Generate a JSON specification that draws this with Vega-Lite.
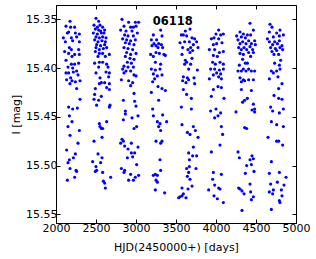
{
  "$schema": "https://vega.github.io/schema/vega-lite/v6.json",
  "width": 240,
  "height": 218,
  "autosize": "none",
  "padding": {"left": 56, "top": 5, "right": 20, "bottom": 36},
  "config": {
    "view": {"stroke": "#000000", "strokeWidth": 1},
    "axis": {
      "labelFont": "DejaVu Sans", "labelFontSize": 11, "labelColor": "#000000",
      "titleFont": "DejaVu Sans", "titleFontSize": 11, "titleFontWeight": "normal", "titleColor": "#000000",
      "domainColor": "#000000", "tickColor": "#000000", "grid": false, "tickSize": -4, "labelPadding": 3
    }
  },
  "resolve": {"axis": {"x": "independent", "y": "independent"}},
  "layer": [
    {
      "data": {"values": [
{"x":2175,"y":15.352},{"x":2125,"y":15.357},{"x":2183,"y":15.358},{"x":2233,"y":15.358},{"x":2158,"y":15.363},{"x":2142,"y":15.364},{"x":2242,"y":15.364},{"x":2292,"y":15.365},{"x":2092,"y":15.369},{"x":2192,"y":15.369},{"x":2258,"y":15.368},{"x":2117,"y":15.373},{"x":2208,"y":15.372},{"x":2292,"y":15.373},{"x":2167,"y":15.379},{"x":2108,"y":15.383},{"x":2192,"y":15.381},{"x":2283,"y":15.381},{"x":2158,"y":15.385},{"x":2233,"y":15.386},{"x":2292,"y":15.386},{"x":2125,"y":15.392},{"x":2200,"y":15.388},{"x":2192,"y":15.396},{"x":2233,"y":15.396},{"x":2283,"y":15.395},{"x":2150,"y":15.399},{"x":2208,"y":15.400},{"x":2258,"y":15.403},{"x":2125,"y":15.405},{"x":2158,"y":15.405},{"x":2217,"y":15.404},{"x":2275,"y":15.407},{"x":2183,"y":15.410},{"x":2133,"y":15.412},{"x":2200,"y":15.413},{"x":2300,"y":15.413},{"x":2242,"y":15.414},{"x":2175,"y":15.416},{"x":2258,"y":15.421},{"x":2300,"y":15.432},{"x":2158,"y":15.440},{"x":2208,"y":15.442},{"x":2267,"y":15.441},
{"x":2500,"y":15.349},{"x":2533,"y":15.352},{"x":2475,"y":15.356},{"x":2517,"y":15.358},{"x":2550,"y":15.356},{"x":2583,"y":15.358},{"x":2492,"y":15.360},{"x":2533,"y":15.361},{"x":2558,"y":15.362},{"x":2608,"y":15.361},{"x":2467,"y":15.364},{"x":2517,"y":15.365},{"x":2567,"y":15.364},{"x":2600,"y":15.364},{"x":2500,"y":15.368},{"x":2542,"y":15.369},{"x":2583,"y":15.368},{"x":2625,"y":15.369},{"x":2483,"y":15.371},{"x":2525,"y":15.373},{"x":2575,"y":15.372},{"x":2617,"y":15.373},{"x":2508,"y":15.376},{"x":2558,"y":15.377},{"x":2608,"y":15.376},{"x":2500,"y":15.379},{"x":2542,"y":15.381},{"x":2592,"y":15.380},{"x":2633,"y":15.379},{"x":2492,"y":15.383},{"x":2542,"y":15.385},{"x":2583,"y":15.385},{"x":2667,"y":15.386},{"x":2525,"y":15.388},{"x":2617,"y":15.388},{"x":2483,"y":15.395},{"x":2542,"y":15.394},{"x":2583,"y":15.394},{"x":2633,"y":15.396},{"x":2533,"y":15.399},{"x":2650,"y":15.399},{"x":2500,"y":15.405},{"x":2625,"y":15.404},{"x":2667,"y":15.405},{"x":2550,"y":15.410},{"x":2658,"y":15.409},{"x":2567,"y":15.415},{"x":2608,"y":15.415},{"x":2667,"y":15.416},{"x":2542,"y":15.416},{"x":2633,"y":15.420},{"x":2492,"y":15.421},{"x":2667,"y":15.422},{"x":2483,"y":15.427},{"x":2567,"y":15.429},{"x":2475,"y":15.432},{"x":2533,"y":15.433},{"x":2675,"y":15.438},{"x":2508,"y":15.438},{"x":2667,"y":15.440},
{"x":2167,"y":15.449},{"x":2200,"y":15.455},{"x":2150,"y":15.460},{"x":2292,"y":15.464},{"x":2175,"y":15.469},{"x":2275,"y":15.477},{"x":2133,"y":15.484},{"x":2242,"y":15.488},{"x":2217,"y":15.492},{"x":2167,"y":15.494},{"x":2150,"y":15.497},{"x":2175,"y":15.503},{"x":2250,"y":15.505},{"x":2258,"y":15.506},{"x":2233,"y":15.512},{"x":2142,"y":15.515},
{"x":2542,"y":15.457},{"x":2633,"y":15.455},{"x":2550,"y":15.460},{"x":2567,"y":15.462},{"x":2583,"y":15.462},{"x":2575,"y":15.471},{"x":2475,"y":15.475},{"x":2525,"y":15.488},{"x":2575,"y":15.492},{"x":2458,"y":15.496},{"x":2558,"y":15.497},{"x":2500,"y":15.501},{"x":2508,"y":15.505},{"x":2492,"y":15.506},{"x":2583,"y":15.507},{"x":2683,"y":15.512},{"x":2592,"y":15.516},{"x":2608,"y":15.518},{"x":2617,"y":15.523},
{"x":2825,"y":15.350},{"x":2908,"y":15.353},{"x":2992,"y":15.353},{"x":3033,"y":15.353},{"x":2850,"y":15.357},{"x":2933,"y":15.358},{"x":2967,"y":15.358},{"x":3000,"y":15.357},{"x":2808,"y":15.361},{"x":2875,"y":15.362},{"x":2950,"y":15.362},{"x":3017,"y":15.364},{"x":2858,"y":15.366},{"x":2900,"y":15.367},{"x":2967,"y":15.367},{"x":2833,"y":15.370},{"x":2883,"y":15.371},{"x":2933,"y":15.372},{"x":2992,"y":15.371},{"x":2867,"y":15.374},{"x":2917,"y":15.375},{"x":2975,"y":15.376},{"x":2850,"y":15.379},{"x":2900,"y":15.380},{"x":2958,"y":15.381},{"x":2883,"y":15.384},{"x":2933,"y":15.386},{"x":3000,"y":15.385},{"x":2867,"y":15.388},{"x":2925,"y":15.390},{"x":2975,"y":15.391},{"x":2892,"y":15.394},{"x":2942,"y":15.395},{"x":2850,"y":15.398},{"x":2900,"y":15.399},{"x":2967,"y":15.399},{"x":2833,"y":15.401},{"x":2875,"y":15.403},{"x":2933,"y":15.403},{"x":2850,"y":15.405},{"x":2975,"y":15.407},{"x":2817,"y":15.412},{"x":2908,"y":15.413},{"x":2958,"y":15.415},{"x":3000,"y":15.408},{"x":2933,"y":15.418},{"x":2975,"y":15.426},{"x":2842,"y":15.433},{"x":2983,"y":15.434},{"x":3000,"y":15.439},{"x":2867,"y":15.444},
{"x":3308,"y":15.361},{"x":3217,"y":15.366},{"x":3325,"y":15.367},{"x":3192,"y":15.371},{"x":3258,"y":15.371},{"x":3283,"y":15.375},{"x":3225,"y":15.375},{"x":3317,"y":15.376},{"x":3200,"y":15.377},{"x":3250,"y":15.377},{"x":3333,"y":15.379},{"x":3275,"y":15.379},{"x":3183,"y":15.386},{"x":3250,"y":15.384},{"x":3292,"y":15.385},{"x":3350,"y":15.386},{"x":3217,"y":15.388},{"x":3367,"y":15.387},{"x":3242,"y":15.394},{"x":3308,"y":15.396},{"x":3192,"y":15.401},{"x":3242,"y":15.402},{"x":3300,"y":15.401},{"x":3217,"y":15.406},{"x":3325,"y":15.407},{"x":3267,"y":15.408},{"x":3233,"y":15.411},{"x":3208,"y":15.414},{"x":3275,"y":15.419},{"x":3325,"y":15.421},{"x":3367,"y":15.423},{"x":3192,"y":15.425},{"x":3283,"y":15.433},{"x":3208,"y":15.442},
{"x":2867,"y":15.447},{"x":2950,"y":15.451},{"x":3025,"y":15.449},{"x":2842,"y":15.453},{"x":3008,"y":15.460},{"x":2975,"y":15.462},{"x":2825,"y":15.473},{"x":2808,"y":15.477},{"x":2842,"y":15.475},{"x":2942,"y":15.477},{"x":2858,"y":15.480},{"x":2900,"y":15.483},{"x":3025,"y":15.481},{"x":2942,"y":15.487},{"x":2983,"y":15.487},{"x":2958,"y":15.491},{"x":2892,"y":15.492},{"x":3008,"y":15.499},{"x":2817,"y":15.503},{"x":2858,"y":15.505},{"x":2850,"y":15.507},{"x":2933,"y":15.509},{"x":3033,"y":15.510},{"x":2992,"y":15.512},{"x":2967,"y":15.515},{"x":2908,"y":15.515},
{"x":3217,"y":15.449},{"x":3333,"y":15.448},{"x":3267,"y":15.455},{"x":3300,"y":15.457},{"x":3383,"y":15.455},{"x":3283,"y":15.460},{"x":3308,"y":15.464},{"x":3250,"y":15.475},{"x":3308,"y":15.477},{"x":3325,"y":15.475},{"x":3300,"y":15.494},{"x":3308,"y":15.505},{"x":3242,"y":15.509},{"x":3217,"y":15.510},{"x":3267,"y":15.510},{"x":3250,"y":15.515},{"x":3267,"y":15.517},{"x":3242,"y":15.525},{"x":3358,"y":15.528},
{"x":3675,"y":15.360},{"x":3617,"y":15.362},{"x":3592,"y":15.366},{"x":3633,"y":15.367},{"x":3567,"y":15.366},{"x":3700,"y":15.369},{"x":3733,"y":15.370},{"x":3550,"y":15.374},{"x":3608,"y":15.373},{"x":3667,"y":15.373},{"x":3758,"y":15.373},{"x":3717,"y":15.376},{"x":3583,"y":15.379},{"x":3683,"y":15.379},{"x":3650,"y":15.381},{"x":3708,"y":15.382},{"x":3775,"y":15.379},{"x":3575,"y":15.386},{"x":3675,"y":15.384},{"x":3617,"y":15.392},{"x":3700,"y":15.390},{"x":3633,"y":15.394},{"x":3608,"y":15.396},{"x":3683,"y":15.396},{"x":3658,"y":15.401},{"x":3767,"y":15.402},{"x":3592,"y":15.409},{"x":3642,"y":15.410},{"x":3583,"y":15.413},{"x":3658,"y":15.412},{"x":3725,"y":15.410},{"x":3625,"y":15.415},{"x":3733,"y":15.416},{"x":3592,"y":15.422},{"x":3633,"y":15.427},{"x":3692,"y":15.431},{"x":3567,"y":15.440},{"x":3692,"y":15.442},
{"x":4033,"y":15.361},{"x":4000,"y":15.365},{"x":4058,"y":15.366},{"x":4092,"y":15.365},{"x":3942,"y":15.370},{"x":3975,"y":15.369},{"x":4033,"y":15.370},{"x":3967,"y":15.376},{"x":4008,"y":15.375},{"x":4075,"y":15.374},{"x":3917,"y":15.381},{"x":3983,"y":15.381},{"x":4042,"y":15.384},{"x":4092,"y":15.383},{"x":3967,"y":15.387},{"x":4017,"y":15.388},{"x":3958,"y":15.394},{"x":4050,"y":15.394},{"x":3992,"y":15.396},{"x":4092,"y":15.396},{"x":3933,"y":15.401},{"x":3983,"y":15.401},{"x":4042,"y":15.402},{"x":4092,"y":15.401},{"x":4008,"y":15.405},{"x":4058,"y":15.406},{"x":3967,"y":15.407},{"x":4033,"y":15.409},{"x":3917,"y":15.411},{"x":4067,"y":15.411},{"x":3967,"y":15.422},{"x":4025,"y":15.419},{"x":4067,"y":15.420},{"x":3942,"y":15.429},{"x":4100,"y":15.431},{"x":4000,"y":15.442},{"x":3933,"y":15.444},{"x":4058,"y":15.446},
{"x":3575,"y":15.458},{"x":3717,"y":15.460},{"x":3742,"y":15.464},{"x":3642,"y":15.466},{"x":3675,"y":15.468},{"x":3775,"y":15.471},{"x":3717,"y":15.481},{"x":3658,"y":15.487},{"x":3708,"y":15.490},{"x":3758,"y":15.490},{"x":3667,"y":15.494},{"x":3667,"y":15.501},{"x":3633,"y":15.503},{"x":3750,"y":15.503},{"x":3658,"y":15.507},{"x":3642,"y":15.511},{"x":3675,"y":15.514},{"x":3575,"y":15.523},{"x":3650,"y":15.524},{"x":3700,"y":15.521},{"x":3592,"y":15.529},{"x":3550,"y":15.532},{"x":3575,"y":15.531},{"x":3625,"y":15.533},{"x":3533,"y":15.533},
{"x":4025,"y":15.449},{"x":3983,"y":15.451},{"x":4067,"y":15.460},{"x":4083,"y":15.468},{"x":4050,"y":15.479},{"x":3942,"y":15.486},{"x":3967,"y":15.507},{"x":4067,"y":15.509},{"x":3958,"y":15.514},{"x":3983,"y":15.520},{"x":3908,"y":15.525},{"x":4033,"y":15.523},{"x":4050,"y":15.524},{"x":3975,"y":15.531},{"x":4017,"y":15.534},{"x":4092,"y":15.538},
{"x":4425,"y":15.354},{"x":4467,"y":15.361},{"x":4300,"y":15.363},{"x":4342,"y":15.365},{"x":4392,"y":15.366},{"x":4258,"y":15.367},{"x":4317,"y":15.368},{"x":4367,"y":15.369},{"x":4433,"y":15.366},{"x":4275,"y":15.371},{"x":4333,"y":15.373},{"x":4408,"y":15.372},{"x":4483,"y":15.372},{"x":4300,"y":15.375},{"x":4375,"y":15.375},{"x":4442,"y":15.375},{"x":4283,"y":15.379},{"x":4350,"y":15.379},{"x":4425,"y":15.378},{"x":4492,"y":15.376},{"x":4317,"y":15.381},{"x":4383,"y":15.381},{"x":4458,"y":15.381},{"x":4300,"y":15.385},{"x":4342,"y":15.386},{"x":4408,"y":15.384},{"x":4467,"y":15.384},{"x":4333,"y":15.391},{"x":4433,"y":15.388},{"x":4367,"y":15.395},{"x":4292,"y":15.397},{"x":4392,"y":15.395},{"x":4342,"y":15.401},{"x":4408,"y":15.401},{"x":4275,"y":15.403},{"x":4317,"y":15.403},{"x":4375,"y":15.403},{"x":4442,"y":15.403},{"x":4483,"y":15.403},{"x":4300,"y":15.410},{"x":4342,"y":15.412},{"x":4408,"y":15.412},{"x":4467,"y":15.412},{"x":4317,"y":15.414},{"x":4358,"y":15.413},{"x":4317,"y":15.422},{"x":4442,"y":15.423},{"x":4392,"y":15.431},{"x":4358,"y":15.433},{"x":4333,"y":15.435},{"x":4467,"y":15.437},{"x":4483,"y":15.442},{"x":4450,"y":15.443},{"x":4250,"y":15.445},{"x":4483,"y":15.445},
{"x":4675,"y":15.355},{"x":4700,"y":15.358},{"x":4667,"y":15.363},{"x":4800,"y":15.361},{"x":4758,"y":15.364},{"x":4792,"y":15.367},{"x":4642,"y":15.370},{"x":4717,"y":15.368},{"x":4842,"y":15.366},{"x":4667,"y":15.373},{"x":4733,"y":15.373},{"x":4792,"y":15.372},{"x":4708,"y":15.376},{"x":4767,"y":15.375},{"x":4825,"y":15.377},{"x":4683,"y":15.379},{"x":4742,"y":15.380},{"x":4800,"y":15.379},{"x":4700,"y":15.383},{"x":4758,"y":15.382},{"x":4833,"y":15.381},{"x":4725,"y":15.386},{"x":4783,"y":15.386},{"x":4808,"y":15.392},{"x":4733,"y":15.395},{"x":4792,"y":15.397},{"x":4692,"y":15.403},{"x":4758,"y":15.403},{"x":4800,"y":15.401},{"x":4717,"y":15.405},{"x":4667,"y":15.411},{"x":4775,"y":15.409},{"x":4825,"y":15.416},{"x":4783,"y":15.421},{"x":4725,"y":15.428},{"x":4783,"y":15.431},{"x":4825,"y":15.432},{"x":4683,"y":15.440},{"x":4708,"y":15.444},{"x":4792,"y":15.446},{"x":4842,"y":15.442},
{"x":4358,"y":15.461},{"x":4383,"y":15.462},{"x":4275,"y":15.486},{"x":4450,"y":15.490},{"x":4292,"y":15.492},{"x":4467,"y":15.493},{"x":4425,"y":15.494},{"x":4383,"y":15.500},{"x":4442,"y":15.499},{"x":4475,"y":15.506},{"x":4367,"y":15.508},{"x":4425,"y":15.519},{"x":4283,"y":15.523},{"x":4300,"y":15.524},{"x":4325,"y":15.526},{"x":4350,"y":15.529},{"x":4433,"y":15.527},{"x":4467,"y":15.532},{"x":4442,"y":15.535},{"x":4325,"y":15.546},
{"x":4692,"y":15.455},{"x":4758,"y":15.458},{"x":4842,"y":15.460},{"x":4650,"y":15.471},{"x":4758,"y":15.475},{"x":4783,"y":15.475},{"x":4833,"y":15.479},{"x":4692,"y":15.496},{"x":4792,"y":15.507},{"x":4667,"y":15.508},{"x":4875,"y":15.512},{"x":4767,"y":15.517},{"x":4683,"y":15.519},{"x":4850,"y":15.520},{"x":4717,"y":15.525},{"x":4817,"y":15.525},{"x":4667,"y":15.527},{"x":4708,"y":15.529},{"x":4825,"y":15.531},{"x":4792,"y":15.536},{"x":4800,"y":15.538},{"x":4692,"y":15.545}
      ]},
      "mark": {"type": "circle", "color": "#0000ff", "opacity": 1, "size": 10},
      "encoding": {
        "x": {"field": "x", "type": "quantitative", "scale": {"domain": [2000, 5000], "nice": false, "zero": false},
              "axis": {"orient": "bottom", "values": [2000, 2500, 3000, 3500, 4000, 4500, 5000], "format": "d", "title": "HJD(2450000+) [days]", "titlePadding": 8, "labelFlush": false}},
        "y": {"field": "y", "type": "quantitative", "scale": {"domain": [15.3353, 15.5589], "reverse": true, "nice": false, "zero": false},
              "axis": {"orient": "left", "values": [15.35, 15.40, 15.45, 15.50, 15.55], "format": ".2f", "title": "I [mag]", "titlePadding": 4}}
      }
    },
    {
      "data": {"values": [{"x": 3458, "y": 15.3528, "label": "06118"}]},
      "mark": {"type": "text", "font": "DejaVu Sans", "fontWeight": "bold", "fontSize": 11.5, "color": "#000000", "align": "center", "baseline": "middle"},
      "encoding": {
        "x": {"field": "x", "type": "quantitative", "scale": {"domain": [2000, 5000], "nice": false, "zero": false},
              "axis": {"orient": "top", "values": [2000, 2500, 3000, 3500, 4000, 4500, 5000], "labels": false, "title": null, "domain": false}},
        "y": {"field": "y", "type": "quantitative", "scale": {"domain": [15.3353, 15.5589], "reverse": true, "nice": false, "zero": false},
              "axis": {"orient": "right", "values": [15.35, 15.40, 15.45, 15.50, 15.55], "labels": false, "title": null, "domain": false}},
        "text": {"field": "label"}
      }
    }
  ]
}
